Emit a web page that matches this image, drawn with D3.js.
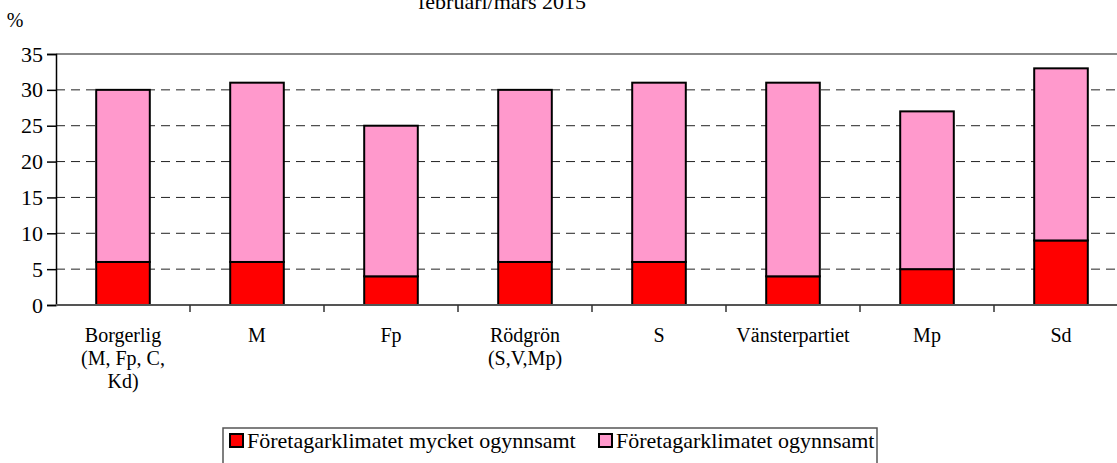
<!DOCTYPE html>
<html>
<head>
<meta charset="utf-8">
<script src="https://cdn.jsdelivr.net/npm/d3@7"></script>
<style>
  body { margin: 0; background: #fff; overflow: hidden; }
  svg text { font-family: "Liberation Serif", "Times New Roman", serif; fill: #000; }
</style>
</head>
<body>
<svg id="chart" width="1117" height="463"></svg>
<script>
// data
var categories = ["Borgerlig|(M, Fp, C,|Kd)", "M", "Fp", "Rödgrön|(S,V,Mp)", "S", "Vänsterpartiet", "Mp", "Sd"];
var veryBad = [6, 6, 4, 6, 6, 4, 5, 9];      // mycket ogynnsamt
var bad = [24, 25, 21, 24, 25, 27, 22, 24];  // ogynnsamt (stacked on top)
var yTicks = [0, 5, 10, 15, 20, 25, 30, 35];
var seriesNames = ["Företagarklimatet mycket ogynnsamt", "Företagarklimatet ogynnsamt"];
var colors = ["#ff0000", "#ff99cc"];

var svg = d3.select("#chart");

// plot area (right side runs past the window, like the reference)
var x0 = 56, step = 134, yTop = 54, yBot = 305;

var x = d3.scaleBand()
    .domain(categories)
    .range([x0, x0 + step * categories.length])
    .padding(0);

var y = d3.scaleLinear().domain([0, 35]).range([yBot, yTop]);

var barW = x.bandwidth() * 0.4;

// title (first line cut off by the top edge)
svg.append("text")
    .attr("x", 502).attr("y", 9)
    .attr("text-anchor", "middle")
    .style("font-size", "22px")
    .text("februari/mars 2015");

svg.append("text")
    .attr("x", 15).attr("y", 27)
    .attr("text-anchor", "middle")
    .style("font-size", "20px")
    .text("%");

// gridlines
svg.append("g").selectAll("line")
    .data(yTicks.filter(function(d) { return d > 0 && d < 35; }))
    .enter().append("line")
    .attr("x1", x0).attr("x2", 1117)
    .attr("y1", function(d) { return y(d); })
    .attr("y2", function(d) { return y(d); })
    .attr("stroke", "#222")
    .attr("stroke-width", 1)
    .attr("stroke-dasharray", "9,6");

// top border
svg.append("line")
    .attr("x1", x0).attr("x2", 1117)
    .attr("y1", y(35)).attr("y2", y(35))
    .attr("stroke", "#888").attr("stroke-width", 2);

// stacked bars
var stack = categories.map(function(c, i) {
    return { cat: c, parts: [[0, veryBad[i]], [veryBad[i], veryBad[i] + bad[i]]] };
});

var groups = svg.append("g").selectAll("g")
    .data(stack).enter().append("g");

groups.selectAll("rect")
    .data(function(d) { return d.parts.map(function(p, j) { return { cat: d.cat, p: p, j: j }; }); })
    .enter().append("rect")
    .attr("x", function(d) { return x(d.cat) + (x.bandwidth() - barW) / 2; })
    .attr("width", barW)
    .attr("y", function(d) { return y(d.p[1]); })
    .attr("height", function(d) { return y(d.p[0]) - y(d.p[1]); })
    .attr("fill", function(d) { return colors[d.j]; })
    .attr("stroke", "#000")
    .attr("stroke-width", 2);

// y axis
var yAxis = d3.axisLeft(y).tickValues(yTicks).tickSize(9).tickPadding(4);
var gy = svg.append("g")
    .attr("transform", "translate(" + x0 + ",0)")
    .call(yAxis)
    .attr("font-family", "Liberation Serif")
    .attr("font-size", 22);
gy.select(".domain").attr("stroke", "#000").attr("stroke-width", 1.5);
gy.selectAll(".tick line").attr("stroke", "#000").attr("stroke-width", 1.5);
gy.selectAll(".tick text")
    .style("font-family", "'Liberation Serif', serif")
    .style("font-size", "22px")
    .attr("fill", "#000");

// x axis line and separators between categories
svg.append("line")
    .attr("x1", x0).attr("x2", 1117)
    .attr("y1", yBot).attr("y2", yBot)
    .attr("stroke", "#555").attr("stroke-width", 2);

svg.append("g").selectAll("line")
    .data(categories.slice(1))
    .enter().append("line")
    .attr("x1", function(d) { return x(d); })
    .attr("x2", function(d) { return x(d); })
    .attr("y1", yBot).attr("y2", yBot + 7)
    .attr("stroke", "#333").attr("stroke-width", 1.5);

// category labels, several lines
var labels = svg.append("g").selectAll("text")
    .data(categories).enter().append("text")
    .attr("text-anchor", "middle")
    .style("font-size", "20px")
    .attr("y", 342);

labels.selectAll("tspan")
    .data(function(d) { return d.split("|").map(function(s) { return { cat: d, s: s }; }); })
    .enter().append("tspan")
    .attr("x", function(d) { return x(d.cat) + x.bandwidth() / 2; })
    .attr("dy", function(d, i) { return i === 0 ? 0 : 23; })
    .text(function(d) { return d.s; });

// legend
var legend = svg.append("g");
legend.append("rect")
    .attr("x", 223).attr("y", 428)
    .attr("width", 654).attr("height", 40)
    .attr("fill", "#fff")
    .attr("stroke", "#555").attr("stroke-width", 1.5);

var legX = [230, 599];
seriesNames.forEach(function(name, i) {
    legend.append("rect")
        .attr("x", legX[i]).attr("y", 434)
        .attr("width", 13).attr("height", 13)
        .attr("fill", colors[i])
        .attr("stroke", "#000").attr("stroke-width", 2);
    legend.append("text")
        .attr("x", legX[i] + 17).attr("y", 448)
        .style("font-size", "22px")
        .text(name);
});
</script>
</body>
</html>
